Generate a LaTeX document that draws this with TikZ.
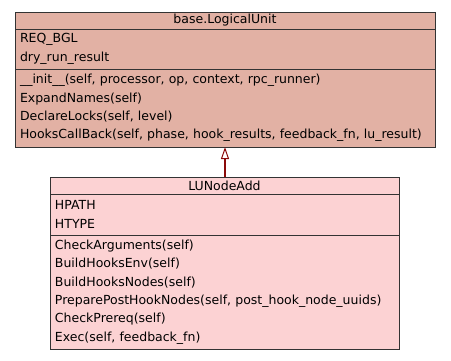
\documentclass[tikz,border=0pt]{standalone}
\usepackage{fontspec}
\setmainfont{DejaVu Sans}
\usepackage{tikz}
\usetikzlibrary{positioning, arrows.meta}
\definecolor{luparent}{HTML}{E2B1A4}
\definecolor{luchild}{HTML}{FCD2D3}
\definecolor{umlline}{HTML}{333333}
\definecolor{inherits}{HTML}{8B0A0A}
\tikzset{
  umlpart/.style={draw=umlline, line width=1pt, outer sep=0pt, inner xsep=5pt, inner ysep=0pt,
    align=left, font=\fontsize{12.5}{18.4}\selectfont},
  umltitle/.style={umlpart, align=center},
  generalize/.style={draw=inherits, line width=1.8pt,
    -{Triangle[length=12pt, width=8pt, fill=white, line width=1pt]}},
}

\begin{document}
\begin{tikzpicture}[x=1pt,y=-1pt]
  \useasboundingbox (0,0) rectangle (451,360);
  % parent class
  \node [umltitle, fill=luparent, text width=410pt, minimum height=17pt, anchor=north] (lu title) at (225,12) {base.LogicalUnit};
  \node [umlpart, fill=luparent, text width=410pt, minimum height=40pt, below=0pt of lu title] (lu attrs) {REQ\_BGL\\dry\_run\_result};
  \node [umlpart, fill=luparent, text width=410pt, minimum height=78pt, below=0pt of lu attrs] (lu methods)
    {\_\_init\_\_(self, processor, op, context, rpc\_runner)\\ExpandNames(self)\\DeclareLocks(self, level)\\HooksCallBack(self, phase, hook\_results, feedback\_fn, lu\_result)};
  % subclass
  \node [umltitle, fill=luchild, text width=339pt, minimum height=17pt, anchor=north] (add title) at (224.5,177) {LUNodeAdd};
  \node [umlpart, fill=luchild, text width=339pt, minimum height=41pt, below=0pt of add title] (add attrs) {HPATH\\HTYPE};
  \node [umlpart, fill=luchild, text width=339pt, minimum height=114pt, below=0pt of add attrs] (add methods)
    {CheckArguments(self)\\BuildHooksEnv(self)\\BuildHooksNodes(self)\\PreparePostHookNodes(self, post\_hook\_node\_uuids)\\CheckPrereq(self)\\Exec(self, feedback\_fn)};
  \draw [generalize] (add title.north -| lu methods.south) -- (lu methods.south);
\end{tikzpicture}
\end{document}
